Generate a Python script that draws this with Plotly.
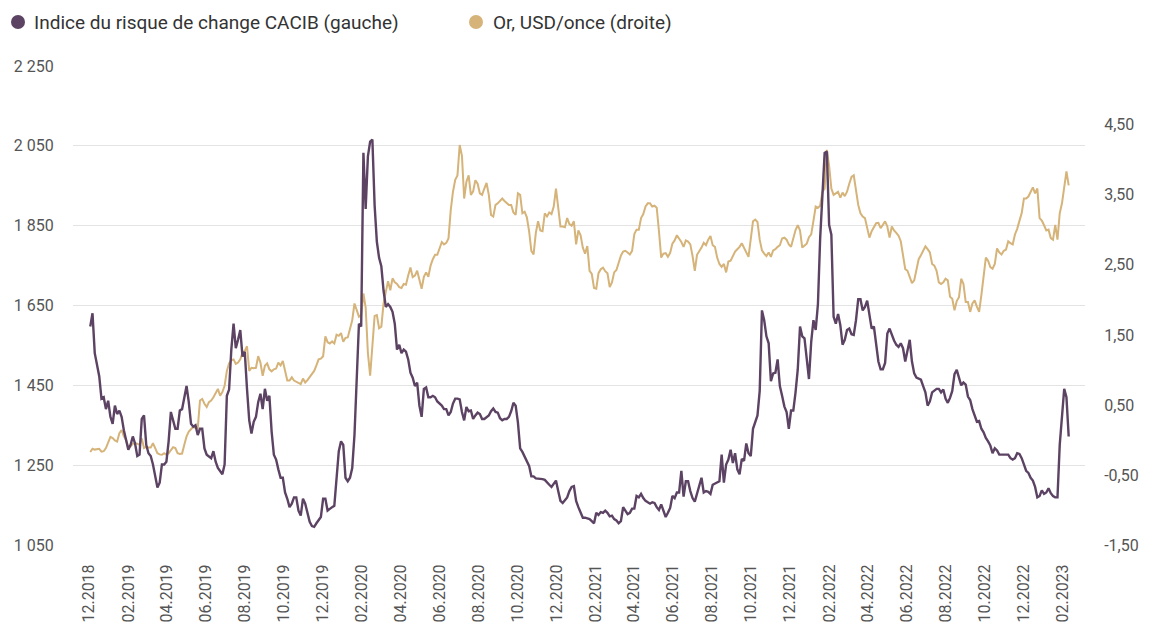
import pandas as pd
import plotly.graph_objects as go

# Half-weekly observations (every 3.5 days) starting 2018-12-03
start_date = "2018-12-03"
step = "84h"

index_cacib = [
    1.62, 1.81, 1.24, 1.05, 0.91, 0.59, 0.61, 0.44, 0.56, 0.33,
    0.23, 0.49, 0.37, 0.42, 0.33, 0.14, 0.02, -0.14, -0.07, 0.05,
    -0.05, -0.23, -0.21, 0.30, 0.35, -0.07, -0.19, -0.23, -0.35, -0.54,
    -0.68, -0.61, -0.35, -0.35, -0.31, -0.02, 0.40, 0.28, 0.16, 0.16,
    0.42, 0.44, 0.63, 0.77, 0.54, 0.23, 0.19, 0.21, 0.07, 0.16,
    0.16, -0.12, -0.21, -0.23, -0.26, -0.16, -0.31, -0.40, -0.45, -0.49,
    -0.35, 0.63, 0.72, 1.29, 1.66, 1.31, 1.43, 1.57, 1.19, 1.26,
    0.73, 0.28, 0.09, 0.26, 0.33, 0.54, 0.66, 0.44, 0.73, 0.56,
    0.63, 0.12, -0.21, -0.28, -0.42, -0.54, -0.54, -0.75, -0.84, -0.96,
    -0.91, -0.82, -0.82, -1.01, -1.08, -0.84, -0.91, -1.03, -1.17, -1.23,
    -1.24, -1.19, -1.15, -1.10, -0.84, -0.84, -1.01, -0.98, -0.96, -0.94,
    -0.54, -0.16, -0.02, -0.07, -0.54, -0.59, -0.54, -0.40, 0.07, 0.82,
    1.66, 1.62, 4.10, 3.30, 4.05, 4.26, 4.29, 3.35, 2.83, 2.60,
    2.48, 2.13, 1.90, 1.94, 1.90, 1.83, 1.66, 1.29, 1.36, 1.24,
    1.29, 1.26, 1.15, 0.96, 0.89, 0.77, 0.82, 0.49, 0.33, 0.73,
    0.75, 0.61, 0.61, 0.63, 0.61, 0.55, 0.52, 0.49, 0.44, 0.44,
    0.35, 0.40, 0.52, 0.59, 0.59, 0.58, 0.40, 0.28, 0.47, 0.41,
    0.42, 0.30, 0.35, 0.39, 0.37, 0.30, 0.30, 0.32, 0.35, 0.41,
    0.45, 0.40, 0.39, 0.31, 0.28, 0.30, 0.30, 0.33, 0.41, 0.53,
    0.49, 0.25, -0.12, -0.17, -0.23, -0.30, -0.37, -0.52, -0.52, -0.55,
    -0.55, -0.56, -0.56, -0.57, -0.61, -0.64, -0.67, -0.63, -0.58, -0.73,
    -0.87, -0.90, -0.86, -0.82, -0.73, -0.67, -0.66, -0.87, -0.96, -1.04,
    -1.11, -1.11, -1.12, -1.13, -1.16, -1.19, -1.04, -1.07, -1.03, -1.04,
    -1.01, -1.04, -1.09, -1.08, -1.13, -1.15, -1.19, -1.16, -0.96, -1.02,
    -1.06, -1.04, -0.98, -0.98, -0.80, -0.82, -0.77, -0.83, -0.87, -0.89,
    -0.91, -0.89, -0.90, -0.96, -1.00, -0.92, -1.02, -1.10, -1.04, -0.97,
    -0.80, -0.83, -0.75, -0.75, -0.44, -0.81, -0.59, -0.59, -0.73, -0.83,
    -0.88, -0.77, -0.66, -0.54, -0.75, -0.73, -0.74, -0.77, -0.64, -0.62,
    -0.61, -0.59, -0.21, -0.61, -0.35, -0.28, -0.14, -0.33, -0.19, -0.42,
    -0.49, -0.27, -0.30, -0.05, -0.19, -0.23, 0.16, 0.27, 0.35, 0.70,
    1.85, 1.71, 1.48, 1.38, 0.84, 0.95, 0.96, 1.15, 0.77, 0.63,
    0.48, 0.40, 0.16, 0.42, 0.42, 0.68, 1.01, 1.62, 1.48, 1.45,
    1.15, 0.87, 1.40, 1.71, 1.57, 1.94, 2.88, 3.44, 4.10, 4.12,
    3.07, 2.93, 1.76, 1.66, 1.80, 1.64, 1.36, 1.43, 1.57, 1.59,
    1.51, 1.50, 1.71, 2.01, 2.01, 1.85, 1.90, 1.99, 1.76, 1.59,
    1.62, 1.38, 1.12, 1.01, 1.01, 1.10, 1.52, 1.59, 1.50, 1.42,
    1.36, 1.33, 1.38, 1.31, 1.12, 1.29, 1.43, 1.12, 0.95, 0.89,
    0.87, 0.86, 0.77, 0.68, 0.49, 0.55, 0.68, 0.70, 0.73, 0.73,
    0.68, 0.72, 0.59, 0.53, 0.60, 0.70, 0.94, 1.00, 0.88, 0.78,
    0.82, 0.79, 0.62, 0.57, 0.44, 0.36, 0.26, 0.27, 0.16, 0.11,
    0.03, -0.02, -0.08, -0.19, -0.12, -0.15, -0.21, -0.21, -0.21, -0.21,
    -0.21, -0.26, -0.28, -0.26, -0.19, -0.20, -0.26, -0.35, -0.44, -0.47,
    -0.54, -0.58, -0.67, -0.82, -0.80, -0.72, -0.77, -0.75, -0.69, -0.76,
    -0.80, -0.82, -0.82, -0.07, 0.30, 0.73, 0.61, 0.05,
]

gold_usd = [
    1283, 1291, 1289, 1290, 1291, 1284, 1285, 1293, 1309, 1321,
    1318, 1312, 1309, 1330, 1338, 1322, 1313, 1294, 1297, 1304,
    1305, 1304, 1301, 1317, 1293, 1296, 1294, 1294, 1305, 1293,
    1280, 1277, 1276, 1280, 1276, 1280, 1289, 1295, 1293, 1280,
    1278, 1279, 1301, 1322, 1334, 1340, 1346, 1343, 1342, 1412,
    1416, 1404, 1396, 1408, 1412, 1420, 1429, 1441, 1424, 1433,
    1449, 1486, 1505, 1513, 1515, 1504, 1507, 1515, 1532, 1536,
    1548, 1486, 1494, 1493, 1494, 1523, 1507, 1474, 1499, 1505,
    1490, 1485, 1490, 1492, 1507, 1500, 1511, 1484, 1462, 1462,
    1470, 1462, 1459, 1457, 1453, 1467, 1457, 1463, 1470, 1478,
    1486, 1500, 1515, 1517, 1523, 1573, 1558, 1555, 1560, 1555,
    1577, 1574, 1581, 1559, 1569, 1570, 1589, 1613, 1655, 1640,
    1622, 1626, 1680, 1645, 1531, 1474, 1540, 1624, 1626, 1593,
    1597, 1655, 1684, 1711, 1688, 1718, 1708, 1704, 1696, 1694,
    1704, 1702, 1725, 1745, 1721, 1725, 1737, 1711, 1692, 1722,
    1733, 1722, 1750, 1766, 1777, 1777, 1791, 1809, 1803, 1807,
    1818, 1889, 1935, 1965, 1976, 2052, 2025, 1918, 1960, 1976,
    1927, 1936, 1964, 1955, 1931, 1927, 1943, 1957, 1927, 1877,
    1873, 1902, 1906, 1912, 1918, 1912, 1908, 1902, 1902, 1883,
    1877, 1931, 1927, 1881, 1885, 1871, 1836, 1787, 1778, 1832,
    1861, 1838, 1836, 1881, 1873, 1883, 1879, 1898, 1943, 1894,
    1848, 1848, 1846, 1869, 1854, 1850, 1861, 1803, 1838, 1826,
    1795, 1780, 1799, 1737, 1729, 1694, 1692, 1731, 1741, 1745,
    1736, 1731, 1696, 1708, 1733, 1739, 1758, 1775, 1785, 1787,
    1783, 1778, 1787, 1829, 1840, 1840, 1869, 1879, 1898, 1906,
    1906, 1898, 1900, 1895, 1836, 1770, 1780, 1781, 1772, 1782,
    1805, 1813, 1826, 1818, 1809, 1797, 1813, 1810, 1803, 1774,
    1737, 1777, 1785, 1795, 1807, 1801, 1815, 1824, 1801, 1797,
    1770, 1754, 1747, 1754, 1733, 1760, 1762, 1773, 1785, 1791,
    1797, 1806, 1793, 1783, 1772, 1811, 1861, 1865, 1859, 1815,
    1788, 1780, 1774, 1783, 1772, 1788, 1791, 1797, 1801, 1818,
    1820, 1815, 1803, 1797, 1818, 1839, 1851, 1838, 1795, 1800,
    1805, 1821, 1828, 1862, 1898, 1895, 1900, 1935, 1943, 2040,
    2000, 1943, 1927, 1931, 1935, 1920, 1933, 1924, 1935, 1955,
    1972, 1976, 1939, 1902, 1881, 1873, 1869, 1840, 1820, 1836,
    1848, 1856, 1857, 1844, 1852, 1861, 1848, 1820, 1848, 1838,
    1832, 1825, 1811, 1774, 1741, 1737, 1721, 1706, 1713, 1741,
    1766, 1776, 1788, 1798, 1791, 1783, 1754, 1750, 1737, 1708,
    1704, 1708, 1717, 1713, 1672, 1667, 1638, 1661, 1671, 1717,
    1704, 1659, 1659, 1634, 1655, 1663, 1647, 1634, 1676, 1729,
    1770, 1762, 1746, 1742, 1754, 1793, 1783, 1778, 1787, 1790,
    1811, 1806, 1803, 1828, 1842, 1862, 1881, 1918, 1918, 1923,
    1935, 1946, 1931, 1943, 1869, 1863, 1851, 1838, 1840, 1819,
    1815, 1852, 1815, 1881, 1906, 1951, 1986, 1951,
]

series_names = ["Indice du risque de change CACIB (gauche)", "Or, USD/once (droite)"]
left_tickvals = [1050, 1250, 1450, 1650, 1850, 2050, 2250]
left_ticktext = ["1 050", "1 250", "1 450", "1 650", "1 850", "2 050", "2 250"]
right_tickvals = [-1.5, -0.5, 0.5, 1.5, 2.5, 3.5, 4.5]
right_ticktext = ["-1,50", "-0,50", "0,50", "1,50", "2,50", "3,50", "4,50"]

PURPLE = "#5c4263"
TAN = "#d5b379"
FONT = "Roboto"
TXT = "#555555"

W, H = 1158, 630
ML, MR, MT, MB = 73, 73, 66, 85
PW, PH = W - ML - MR, H - MT - MB


def px_to_paper_x(px):
    return (px - ML) / PW


def px_to_paper_y(py):
    return (H - MB - py) / PH


dates_gold = pd.date_range(start_date, periods=len(gold_usd), freq=step)
dates_index = pd.date_range(start_date, periods=len(index_cacib), freq=step)

fig = go.Figure()
fig.add_trace(go.Scatter(x=dates_gold, y=gold_usd, mode="lines", yaxis="y",
                         name=series_names[1],
                         line=dict(color=TAN, width=2), showlegend=False))
fig.add_trace(go.Scatter(x=dates_index, y=index_cacib, mode="lines", yaxis="y2",
                         name=series_names[0],
                         line=dict(color=PURPLE, width=2.4), showlegend=False))

# Legend drawn as round swatches + text
legend_items = [(series_names[0], PURPLE, 18, 32), (series_names[1], TAN, 476, 491)]
shapes, annotations = [], []
for name, color, cx, tx in legend_items:
    shapes.append(dict(type="circle", xref="paper", yref="paper",
                       xsizemode="pixel", ysizemode="pixel",
                       xanchor=px_to_paper_x(cx), yanchor=px_to_paper_y(22),
                       x0=-7, x1=7, y0=-7, y1=7,
                       fillcolor=color, line=dict(width=0)))
    annotations.append(dict(text=name, xref="paper", yref="paper",
                            x=px_to_paper_x(tx), y=px_to_paper_y(22),
                            xanchor="left", yanchor="middle", showarrow=False,
                            font=dict(family=FONT, size=19, color="#333333")))

fig.update_layout(
    width=W, height=H,
    margin=dict(l=ML, r=MR, t=MT, b=MB, autoexpand=False),
    paper_bgcolor="white", plot_bgcolor="white",
    font=dict(family=FONT, size=16, color=TXT),
    showlegend=False, hovermode=False,
    shapes=shapes, annotations=annotations,
    xaxis=dict(
        type="date", automargin=False,
        range=["2018-11-06", "2023-03-07"],
        tick0="2018-12-01", dtick="M2", tickformat="%m.%Y",
        tickangle=-90, showgrid=False, zeroline=False, showline=False,
        ticks="outside", ticklen=12, tickcolor="rgba(0,0,0,0)",
        tickfont=dict(family=FONT, size=16, color=TXT),
    ),
    yaxis=dict(
        range=[1050, 2250], tickvals=left_tickvals, ticktext=left_ticktext,
        automargin=False,
        showgrid=True, gridcolor="#e3e3e3", gridwidth=1, zeroline=False,
        showline=False, ticks="outside", ticklen=15, tickcolor="rgba(0,0,0,0)",
        tickfont=dict(family=FONT, size=16, color=TXT),
    ),
    yaxis2=dict(
        range=[-1.5, 5.34], tickvals=right_tickvals, ticktext=right_ticktext,
        automargin=False,
        overlaying="y", side="right", showgrid=False, zeroline=False,
        showline=False, ticks="outside", ticklen=15, tickcolor="rgba(0,0,0,0)",
        tickfont=dict(family=FONT, size=16, color=TXT),
    ),
)

fig.write_html("out.html", config={"displayModeBar": False},
               post_script="document.body.style.margin='0px';")
